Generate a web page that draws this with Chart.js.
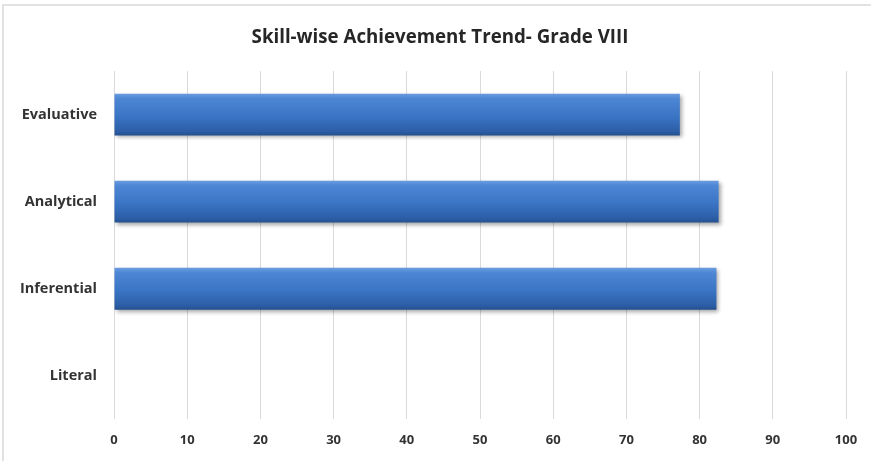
<!DOCTYPE html>
<html>
<head>
<meta charset="utf-8">
<title>Skill-wise Achievement Trend- Grade VIII</title>
<script src="https://cdn.jsdelivr.net/npm/chart.js@4"></script>
<style>
  html, body { margin: 0; padding: 0; background: #ffffff; }
  #wrap { position: relative; width: 871px; height: 461px; }
</style>
</head>
<body>
<div id="wrap"><canvas id="chart" width="871" height="461"></canvas></div>
<script>
// Skills, top to bottom
const skills = ['Evaluative', 'Analytical', 'Inferential', 'Literal'];
// Achievement (%) per skill
const achievement = [77.3, 82.6, 82.3, 0];
// Value axis ticks
const xTicks = [0, 10, 20, 30, 40, 50, 60, 70, 80, 90, 100];

const TITLE = 'Skill-wise Achievement Trend- Grade VIII';
const FONT = "'Open Sans', Lato, sans-serif";
const BAR_PCT = 0.48;

// Vertical blue gradient for each bar, lighter on top, darker underneath
function barGradient(ctx) {
  const chart = ctx.chart;
  const y = chart.scales.y;
  if (!y || ctx.dataIndex === undefined) return '#3a75c4';
  const center = y.getPixelForValue(ctx.dataIndex);
  const half = (y.height / skills.length) * BAR_PCT / 2;
  if (!isFinite(center) || !isFinite(half) || half <= 0) return '#3a75c4';
  const g = chart.ctx.createLinearGradient(0, center - half, 0, center + half);
  g.addColorStop(0, '#6a9ce0');
  g.addColorStop(0.12, '#4d86d4');
  g.addColorStop(0.55, '#3a74c4');
  g.addColorStop(0.9, '#2c5ea6');
  g.addColorStop(1, '#234f8e');
  return g;
}

// Bar shadow, the light frame on top/left, and the title centred on the canvas
const decor = {
  id: 'decor',
  beforeDatasetDraw(chart) {
    const c = chart.ctx;
    c.save();
    c.shadowColor = 'rgba(0,0,0,0.35)';
    c.shadowBlur = 4;
    c.shadowOffsetX = 2;
    c.shadowOffsetY = 2;
  },
  afterDatasetDraw(chart) {
    chart.ctx.restore();
  },
  afterDraw(chart) {
    const c = chart.ctx;
    c.save();
    c.strokeStyle = '#e2e2e2';
    c.lineWidth = 2;
    c.beginPath();
    c.moveTo(3, 461);
    c.lineTo(3, 5);
    c.lineTo(871, 5);
    c.stroke();

    c.fillStyle = '#262626';
    c.font = "bold 18.7px " + FONT;
    c.textAlign = 'center';
    c.textBaseline = 'middle';
    c.fillText(TITLE, 440, 38);
    c.restore();
  }
};

new Chart(document.getElementById('chart'), {
  type: 'bar',
  data: {
    labels: skills,
    datasets: [{
      label: 'Achievement',
      data: achievement,
      backgroundColor: barGradient,
      borderWidth: 0,
      categoryPercentage: 1,
      barPercentage: BAR_PCT
    }]
  },
  options: {
    indexAxis: 'y',
    responsive: false,
    animation: false,
    devicePixelRatio: 1,
    layout: { padding: { left: 0, right: 25, top: 71, bottom: 0 } },
    plugins: {
      legend: { display: false },
      tooltip: { enabled: false },
      title: { display: false }
    },
    scales: {
      x: {
        min: 0,
        max: 100,
        afterBuildTicks(scale) {
          scale.ticks = xTicks.map(v => ({ value: v }));
        },
        grid: { color: '#dadada', lineWidth: 1, drawTicks: false },
        border: { display: false },
        ticks: {
          padding: 13,
          color: '#333333',
          font: { family: FONT, size: 13, weight: 'bold' }
        }
      },
      y: {
        afterFit(scale) { scale.width = 114; },
        grid: { display: false, drawTicks: false },
        border: { display: false },
        ticks: {
          padding: 17,
          color: '#333333',
          font: { family: FONT, size: 14.5, weight: 'bold' }
        }
      }
    }
  },
  plugins: [decor]
});
</script>
</body>
</html>
